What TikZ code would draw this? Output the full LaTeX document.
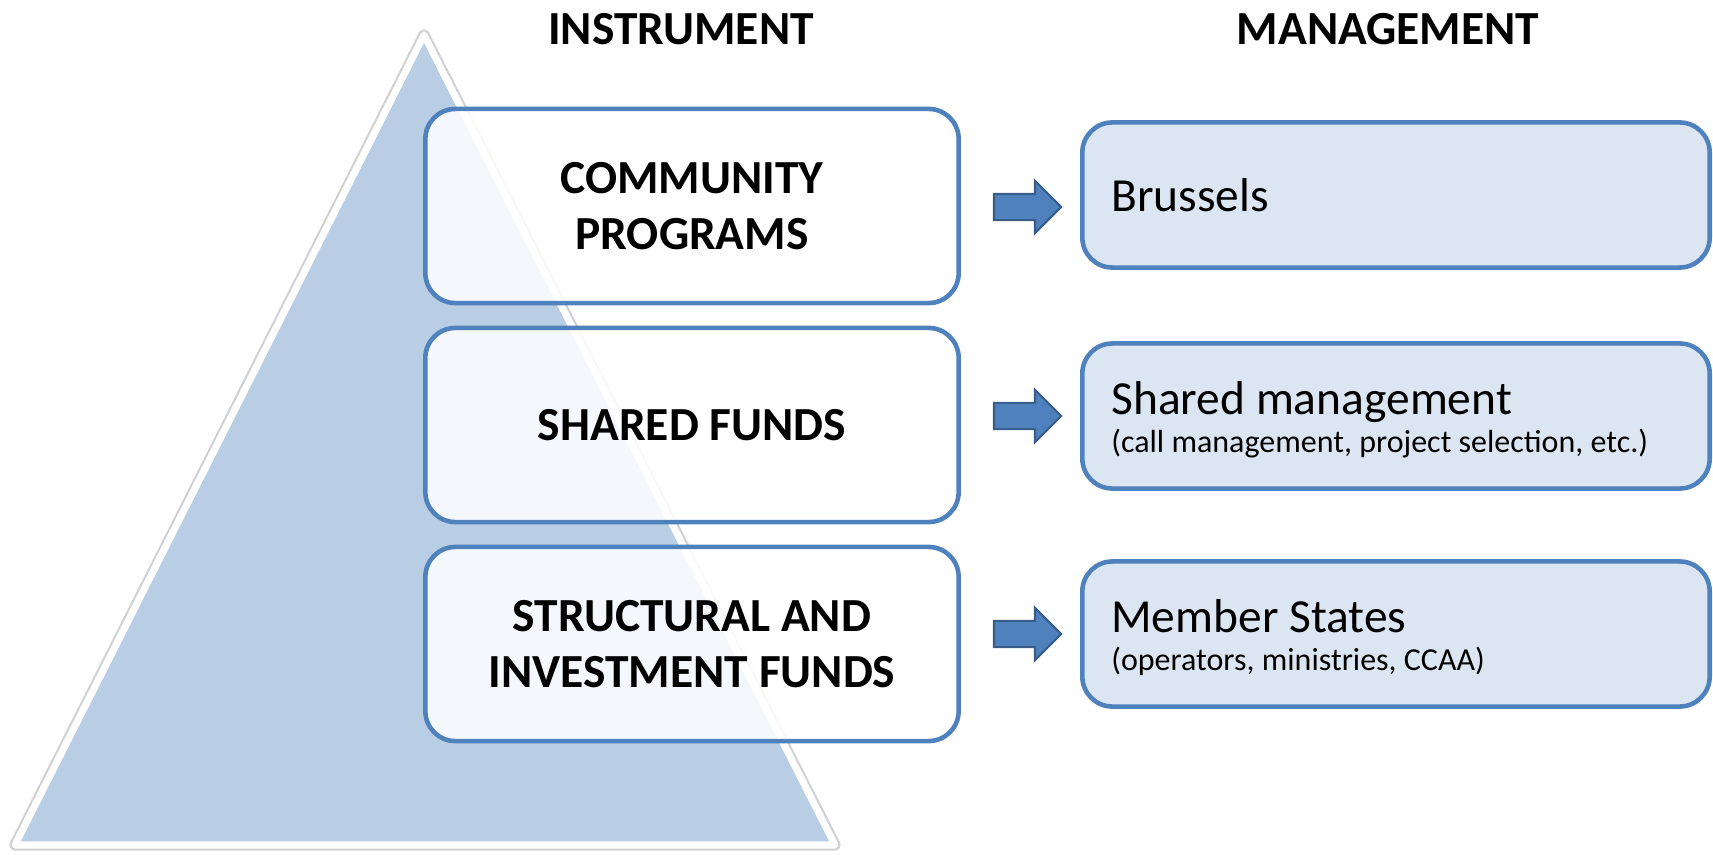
\documentclass[tikz,border=0pt]{standalone}
\usepackage{fontspec}
\setmainfont{Carlito}
\usetikzlibrary{shapes.arrows}
\definecolor{boxblue}{HTML}{4F81BD}
\definecolor{arrowedge}{HTML}{385D8A}
\definecolor{mgmtfill}{HTML}{DCE6F2}
\definecolor{pyrfill}{HTML}{B9CDE5}
\newcommand\subnote{\fontsize{9.1}{11}\selectfont}
\newcommand\firstline{\rule{0pt}{11.5pt}}
\begin{document}
\begin{tikzpicture}[x=0.01cm,y=-0.01cm,
    instr/.style={draw=boxblue,line width=1.3pt,fill=white,fill opacity=0.85,text opacity=1,
      rounded corners=0.3cm,minimum width=5.33cm,minimum height=1.94cm,align=center,
      font=\bfseries\fontsize{13.5}{16}\selectfont},
    mgmt/.style={draw=boxblue,line width=1.3pt,fill=mgmtfill,rounded corners=0.3cm,
      minimum width=6.27cm,minimum height=1.45cm,inner xsep=0.29cm,text width=5.69cm,
      align=flush left,font=\fontsize{13.5}{11}\selectfont},
    head/.style={font=\bfseries\fontsize{13.5}{16}\selectfont},
    blockarrow/.style={single arrow,draw=arrowedge,fill=boxblue,line width=0.6pt,
      minimum width=0.5cm,minimum height=0.67cm,single arrow head extend=0.13cm,
      inner xsep=0pt,inner ysep=0.12cm}]
  \useasboundingbox (0,0) rectangle (1713,855);
  % pyramid
  \draw[black!18,line width=3.2pt,line join=round] (424,35) -- (15,845) -- (835,845) -- cycle;
  \draw[fill=pyrfill,draw=white,line width=2pt,line join=round] (424,35) -- (15,845) -- (835,845) -- cycle;
  \node[head] (T0) at (681,29) {INSTRUMENT};
  \node[head] (T1) at (1388,29) {MANAGEMENT};
  \node[instr] (I1) at (692,206) {COMMUNITY\\PROGRAMS};
  \node[instr] (I2) at (692,425) {SHARED FUNDS};
  \node[instr] (I3) at (692,644) {STRUCTURAL AND\\INVESTMENT FUNDS};
  \node[mgmt] (M1) at (1396,195) {Brussels};
  \node[mgmt] (M2) at (1396,416) {\firstline Shared management\\{\subnote (call management, project selection, etc.)}};
  \node[mgmt] (M3) at (1396,634) {\firstline Member States\\{\subnote (operators, ministries, CCAA)}};
  \foreach \i/\ay in {1/207,2/416,3/634}
    \node[blockarrow] (A\i) at (1021,\ay) {};
\end{tikzpicture}
\end{document}
